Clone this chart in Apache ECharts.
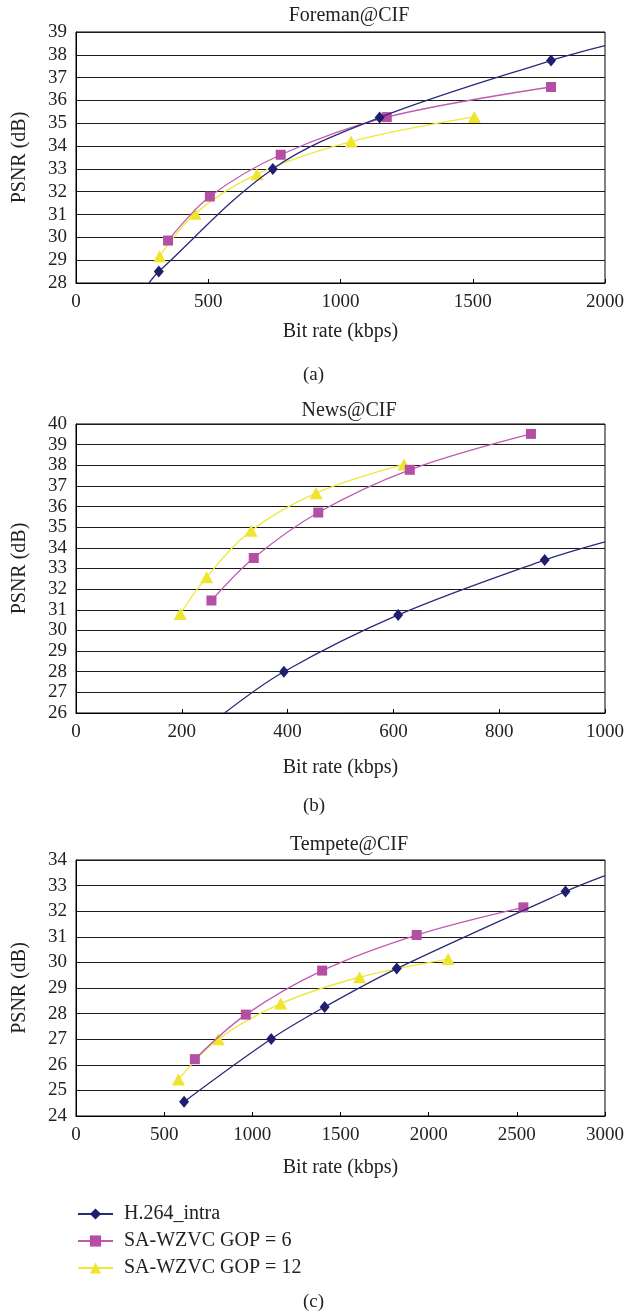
<!DOCTYPE html>
<html><head><meta charset="utf-8">
<script src="https://cdn.jsdelivr.net/npm/echarts@6/dist/echarts.min.js"></script>
<style>html,body{margin:0;padding:0;background:#fff}#c{width:639px;height:1316px}</style>
</head><body><div id="c"></div>
<script>
const seriesNames = ['H.264_intra', 'SA-WZVC GOP = 6', 'SA-WZVC GOP = 12'];
const chartTitles = ['Foreman@CIF', 'News@CIF', 'Tempete@CIF'];
const panelLabels = ['(a)', '(b)', '(c)'];
const xAxisName = 'Bit rate (kbps)';
const yAxisName = 'PSNR (dB)';

// axis ranges [min, max, interval]
const foremanX = [0, 2000, 500];
const foremanY = [28, 39, 1];
const newsX = [0, 1000, 200];
const newsY = [26, 40, 1];
const tempeteX = [0, 3000, 500];
const tempeteY = [24, 34, 1];

// Foreman@CIF  [kbps, dB]
const foremanH264 = [[313, 28.5], [744, 33.0], [1148, 35.25], [1796, 37.75]];
const foremanH264TrendEnds = [[276, 28.0], [2000, 38.4]];
const foremanGop6 = [[348, 29.86], [506, 31.79], [774, 33.62], [1175, 35.27], [1796, 36.59]];
const foremanGop12 = [[316, 29.17], [450, 31.04], [684, 32.77], [1040, 34.2], [1506, 35.28]];

// News@CIF
const newsH264 = [[393, 28.0], [609, 30.75], [886, 33.41]];
const newsH264TrendEnds = [[281, 26.0], [1000, 34.29]];
const newsGop6 = [[256, 31.45], [336, 33.51], [458, 35.71], [631, 37.78], [860, 39.52]];
const newsGop12 = [[197, 30.8], [247, 32.58], [331, 34.83], [454, 36.65], [620, 38.04]];

// Tempete@CIF
const tempeteH264 = [[613, 24.56], [1107, 27.01], [1410, 28.26], [1819, 29.76], [2776, 32.77]];
const tempeteH264TrendEnds = [null, [3000, 33.39]];
const tempeteGop6 = [[674, 26.22], [963, 27.96], [1396, 29.68], [1932, 31.07], [2537, 32.15]];
const tempeteGop12 = [[581, 25.43], [807, 27.0], [1161, 28.39], [1608, 29.42], [2110, 30.13]];

const FONT = '"Liberation Serif", "DejaVu Serif", serif';
const colors = ['#1f1f6f', '#b54ea5', '#eee52c'];
const lineColors = ['#2a2a78', '#c05ab2', '#eee83a'];
const symbols = ['diamond', 'rect', 'triangle'];
const symbolSizes = [[10, 12], 10, [13, 12]];

const panels = [
  {x: foremanX, y: foremanY, top: 32, height: 251, nameGap: 39, data: [foremanH264, foremanGop6, foremanGop12], ends: foremanH264TrendEnds, titleTop: 1, labelTop: 366},
  {x: newsX, y: newsY, top: 424, height: 289, nameGap: 45, data: [newsH264, newsGop6, newsGop12], ends: newsH264TrendEnds, titleTop: 396, labelTop: 797},
  {x: tempeteX, y: tempeteY, top: 860, height: 256, nameGap: 42, data: [tempeteH264, tempeteGop6, tempeteGop12], ends: tempeteH264TrendEnds, titleTop: 830, labelTop: 1293}
];

const grid = [], xAxis = [], yAxis = [], series = [], title = [], graphic = [];
panels.forEach((p, i) => {
  grid.push({left: 76, width: 529, top: p.top, height: p.height, show: true, borderColor: '#000', borderWidth: 1, containLabel: false});
  xAxis.push({
    type: 'value', gridIndex: i, min: p.x[0], max: p.x[1], interval: p.x[2],
    name: xAxisName, nameLocation: 'middle', nameGap: p.nameGap,
    nameTextStyle: {fontFamily: FONT, fontSize: 20, color: '#222'},
    axisLine: {show: true, lineStyle: {color: '#000', width: 1}},
    axisTick: {show: true, inside: true, length: 4, lineStyle: {color: '#000'}},
    axisLabel: {fontFamily: FONT, fontSize: 19, color: '#222', margin: 10, formatter: v => String(v)},
    splitLine: {show: false}
  });
  yAxis.push({
    type: 'value', gridIndex: i, min: p.y[0], max: p.y[1], interval: p.y[2],
    name: yAxisName, nameLocation: 'middle', nameGap: 46, nameRotate: 90,
    nameTextStyle: {fontFamily: FONT, fontSize: 20, color: '#222'},
    axisLine: {show: true, lineStyle: {color: '#000', width: 1}},
    axisTick: {show: false},
    axisLabel: {fontFamily: FONT, fontSize: 19, color: '#222', margin: 9},
    splitLine: {show: true, lineStyle: {color: '#1a1a1a', width: 1.2}}
  });
  title.push({text: chartTitles[i], left: 344, textAlign: 'center', top: p.titleTop,
    textStyle: {fontFamily: FONT, fontSize: 20, fontWeight: 'normal', color: '#222'}});
  graphic.push({type: 'text', left: 303, top: p.labelTop,
    style: {text: panelLabels[i], font: '19px ' + FONT, fill: '#222'}});
  p.data.forEach((d, k) => {
    let data = d.map(v => ({value: v}));
    if (k === 0) {
      const [s, e] = p.ends;
      if (s) data.unshift({value: s, symbol: 'none'});
      if (e) data.push({value: e, symbol: 'none'});
    }
    series.push({
      name: seriesNames[k], type: 'line', xAxisIndex: i, yAxisIndex: i,
      data: data, smooth: 0.35, symbol: symbols[k], symbolSize: symbolSizes[k],
      showAllSymbol: true,
      itemStyle: {color: colors[k]},
      lineStyle: {color: lineColors[k], width: 1.3},
      z: 3 - k,
      clip: true,
      animation: false
    });
  });
});

const chart = echarts.init(document.getElementById('c'), null, {renderer: 'canvas'});
chart.setOption({
  backgroundColor: '#fff',
  animation: false,
  title: title,
  grid: grid,
  xAxis: xAxis,
  yAxis: yAxis,
  series: series,
  graphic: graphic,
  legend: {
    orient: 'vertical', left: 72, top: 1199, itemWidth: 35, itemHeight: 14, itemGap: 7,
    data: seriesNames,
    textStyle: {fontFamily: FONT, fontSize: 20, color: '#222', padding: [0, 0, 0, 6]}
  }
});
</script></body></html>
